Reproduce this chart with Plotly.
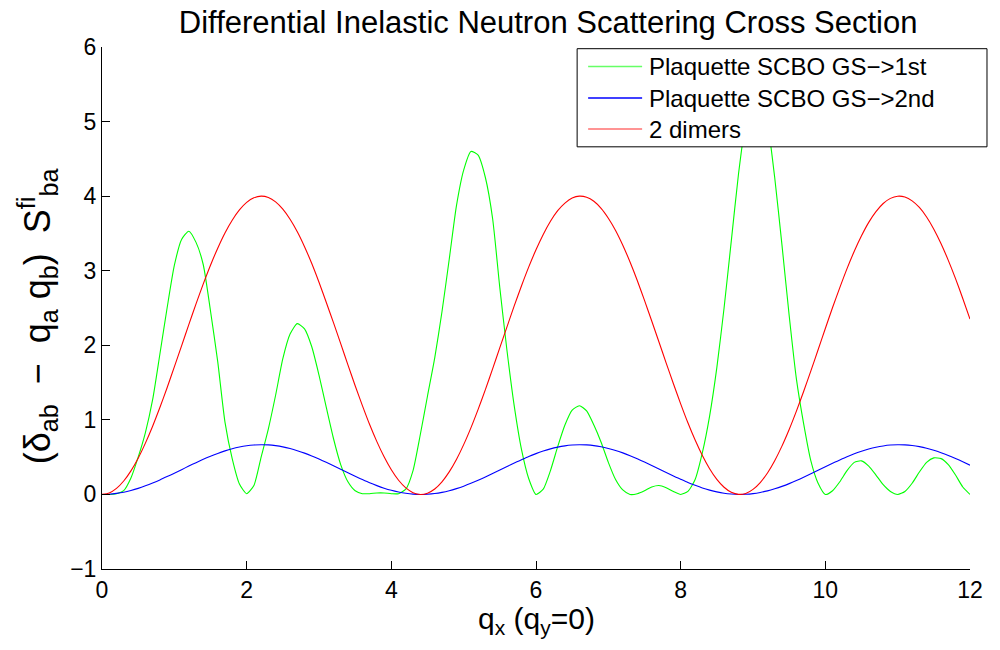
import plotly.graph_objects as go

qx = [0.0, 0.1, 0.2, 0.3, 0.4, 0.5, 0.6, 0.7, 0.8, 0.9,
      1.0, 1.1, 1.2, 1.3, 1.4, 1.5, 1.6, 1.7, 1.8, 1.9,
      2.0, 2.1, 2.2, 2.3, 2.4, 2.5, 2.6, 2.7, 2.8, 2.9,
      3.0, 3.1, 3.2, 3.3, 3.4, 3.5, 3.6, 3.7, 3.8, 3.9,
      4.0, 4.1, 4.2, 4.3, 4.4, 4.5, 4.6, 4.7, 4.8, 4.9,
      5.0, 5.1, 5.2, 5.3, 5.4, 5.5, 5.6, 5.7, 5.8, 5.9,
      6.0, 6.1, 6.2, 6.3, 6.4, 6.5, 6.6, 6.7, 6.8, 6.9,
      7.0, 7.1, 7.2, 7.3, 7.4, 7.5, 7.6, 7.7, 7.8, 7.9,
      8.0, 8.1, 8.2, 8.3, 8.4, 8.5, 8.6, 8.7, 8.8, 8.9,
      9.0, 9.1, 9.2, 9.3, 9.4, 9.5, 9.6, 9.7, 9.8, 9.9,
      10.0, 10.1, 10.2, 10.3, 10.4, 10.5, 10.6, 10.7, 10.8, 10.9,
      11.0, 11.1, 11.2, 11.3, 11.4, 11.5, 11.6, 11.7, 11.8, 11.9,
      12.0]

plaquette_1st = [0.00, 0.00, 0.01, 0.05, 0.22, 0.50, 0.83, 1.27, 1.88, 2.50,
                 3.07, 3.42, 3.53, 3.38, 3.08, 2.46, 1.78, 0.97, 0.48, 0.14,
                 0.01, 0.12, 0.50, 0.88, 1.33, 1.82, 2.15, 2.29, 2.22, 1.98,
                 1.60, 1.17, 0.75, 0.40, 0.17, 0.05, 0.01, 0.01, 0.02, 0.02,
                 0.01, 0.01, 0.07, 0.32, 0.80, 1.32, 1.83, 2.45, 3.15, 3.87,
                 4.35, 4.60, 4.55, 4.25, 3.70, 2.77, 1.92, 1.18, 0.60, 0.21,
                 0.00, 0.07, 0.32, 0.64, 0.93, 1.13, 1.19, 1.12, 0.93, 0.70,
                 0.43, 0.20, 0.06, 0.00, 0.01, 0.05, 0.10, 0.12, 0.09, 0.04,
                 0.00, 0.04, 0.20, 0.56, 1.05, 1.70, 2.50, 3.40, 4.30, 5.00,
                 5.40, 5.40, 5.00, 4.25, 3.35, 2.40, 1.55, 0.95, 0.45, 0.15,
                 0.00, 0.05, 0.17, 0.32, 0.43, 0.45, 0.38, 0.26, 0.13, 0.04,
                 0.00, 0.04, 0.15, 0.30, 0.43, 0.49, 0.48, 0.40, 0.26, 0.10,
                 0.00]

plaquette_2nd = [0.000, 0.003, 0.014, 0.030, 0.053, 0.081, 0.115, 0.153, 0.194, 0.239,
                 0.285, 0.332, 0.380, 0.426, 0.471, 0.512, 0.550, 0.584, 0.613, 0.636,
                 0.653, 0.663, 0.667, 0.664, 0.654, 0.638, 0.615, 0.587, 0.554, 0.516,
                 0.474, 0.430, 0.384, 0.337, 0.290, 0.243, 0.199, 0.156, 0.118, 0.084,
                 0.055, 0.032, 0.015, 0.004, 0.000, 0.003, 0.012, 0.028, 0.050, 0.078,
                 0.111, 0.149, 0.190, 0.234, 0.281, 0.328, 0.375, 0.422, 0.466, 0.509,
                 0.547, 0.581, 0.611, 0.634, 0.651, 0.662, 0.667, 0.664, 0.655, 0.639,
                 0.617, 0.590, 0.557, 0.520, 0.478, 0.434, 0.388, 0.341, 0.294, 0.247,
                 0.203, 0.160, 0.122, 0.087, 0.058, 0.034, 0.016, 0.005, 0.000, 0.002,
                 0.011, 0.027, 0.048, 0.076, 0.108, 0.145, 0.186, 0.230, 0.276, 0.323,
                 0.371, 0.418, 0.462, 0.505, 0.544, 0.578, 0.608, 0.632, 0.650, 0.662,
                 0.667, 0.665, 0.656, 0.641, 0.620, 0.593, 0.560, 0.523, 0.482, 0.438,
                 0.392]

two_dimers = [0.000, 0.020, 0.081, 0.180, 0.316, 0.486, 0.688, 0.915, 1.165, 1.431,
              1.710, 1.993, 2.277, 2.555, 2.823, 3.074, 3.302, 3.506, 3.677, 3.815,
              3.916, 3.978, 4.000, 3.982, 3.923, 3.825, 3.690, 3.522, 3.322, 3.096,
              2.845, 2.577, 2.304, 2.022, 1.738, 1.457, 1.191, 0.937, 0.708, 0.505,
              0.331, 0.190, 0.088, 0.024, 0.000, 0.017, 0.073, 0.169, 0.302, 0.469,
              0.668, 0.893, 1.141, 1.406, 1.683, 1.968, 2.251, 2.531, 2.798, 3.051,
              3.281, 3.487, 3.663, 3.805, 3.907, 3.974, 4.000, 3.985, 3.931, 3.836,
              3.704, 3.540, 3.342, 3.117, 2.869, 2.602, 2.326, 2.044, 1.761, 1.484,
              1.215, 0.961, 0.729, 0.522, 0.345, 0.202, 0.096, 0.028, 0.001, 0.013,
              0.067, 0.159, 0.288, 0.453, 0.648, 0.871, 1.117, 1.381, 1.656, 1.940,
              2.225, 2.506, 2.773, 3.028, 3.261, 3.468, 3.648, 3.792, 3.901, 3.970,
              3.999, 3.988, 3.937, 3.848, 3.720, 3.557, 3.362, 3.139, 2.894, 2.628,
              2.351]

series_names = ["Plaquette SCBO GS\u2212>1st", "Plaquette SCBO GS\u2212>2nd", "2 dimers"]
series_colors = ["#00ff00", "#0000ff", "#ff0000"]
legend_colors = ["#66ff66", "#0000ff", "#ff7070"]
x_ticks = [0, 2, 4, 6, 8, 10, 12]
y_ticks = [-1, 0, 1, 2, 3, 4, 5, 6]

FONT = "Liberation Sans, Arial, Helvetica, sans-serif"

# page body has an 8px margin; plot area in window px: x 101.7..970, y 47.3..568.7
PX0, PX1, PY0, PY1 = 101.7, 970.0, 47.3, 568.7


def px_x(px):
    return (px - PX0) / (PX1 - PX0)


def px_y(py):
    return (PY1 - py) / (PY1 - PY0)


fig = go.Figure()
for name, ys, col in zip(series_names, [plaquette_1st, plaquette_2nd, two_dimers], series_colors):
    fig.add_trace(go.Scatter(x=qx, y=ys, mode="lines", name=name,
                             line=dict(color=col, width=1.1, shape="spline", smoothing=0.6)))

# legend box (MATLAB style, opaque, drawn over the curves)
shapes = [dict(type="rect", xref="paper", yref="paper",
               x0=px_x(577), x1=px_x(987), y0=px_y(147), y1=px_y(49),
               fillcolor="white", line=dict(color="black", width=1), layer="above")]
annotations = []
row_y = [66.7, 98.3, 129.3]
for name, col, ry in zip(series_names, legend_colors, row_y):
    shapes.append(dict(type="line", xref="paper", yref="paper",
                       x0=px_x(588), x1=px_x(642), y0=px_y(ry), y1=px_y(ry),
                       line=dict(color=col, width=1.5), layer="above"))
    annotations.append(dict(text=name, xref="paper", yref="paper",
                            x=px_x(647), y=px_y(ry), xanchor="left", yanchor="middle",
                            showarrow=False, font=dict(family=FONT, size=24, color="black")))

annotations += [
    dict(text="q<sub>x</sub> (q<sub>y</sub>=0)", xref="paper", yref="paper",
         x=px_x(536), y=px_y(620), xanchor="center", yanchor="middle", showarrow=False,
         font=dict(family=FONT, size=30, color="black")),
    dict(text="(\u03b4<sub>ab</sub>\u00a0\u00a0\u2212\u00a0\u00a0q<sub>a</sub>\u00a0q<sub>b</sub>)\u00a0\u00a0S<sup>fi</sup><sub>ba</sub>",
         xref="paper", yref="paper", x=px_x(37), y=px_y(316), xanchor="center", yanchor="middle",
         textangle=-90, showarrow=False,
         font=dict(family=FONT, size=36, color="black")),
]

fig.update_layout(
    width=992, height=642,
    paper_bgcolor="white", plot_bgcolor="white",
    margin=dict(l=94, r=30, t=39, b=81),
    font=dict(family=FONT, size=23, color="black"),
    title=dict(text="Differential Inelastic Neutron Scattering Cross Section",
               x=px_x(548), xref="paper", xanchor="center",
               y=1 - 14 / 642, yref="container", yanchor="middle",
               font=dict(family=FONT, size=31, color="black")),
    showlegend=False,
    xaxis=dict(range=[0, 12], tickvals=x_ticks, ticks="inside", ticklen=8,
               tickcolor="black", showline=True, linecolor="black", linewidth=1,
               showgrid=False, zeroline=False, mirror=False,
               tickfont=dict(family=FONT, size=23)),
    yaxis=dict(range=[-1, 6], tickvals=y_ticks, ticks="inside", ticklen=8,
               tickcolor="black", showline=True, linecolor="black", linewidth=1,
               showgrid=False, zeroline=False, mirror=False,
               tickfont=dict(family=FONT, size=23)),
    shapes=shapes,
    annotations=annotations,
)

fig.write_html("out.html")
